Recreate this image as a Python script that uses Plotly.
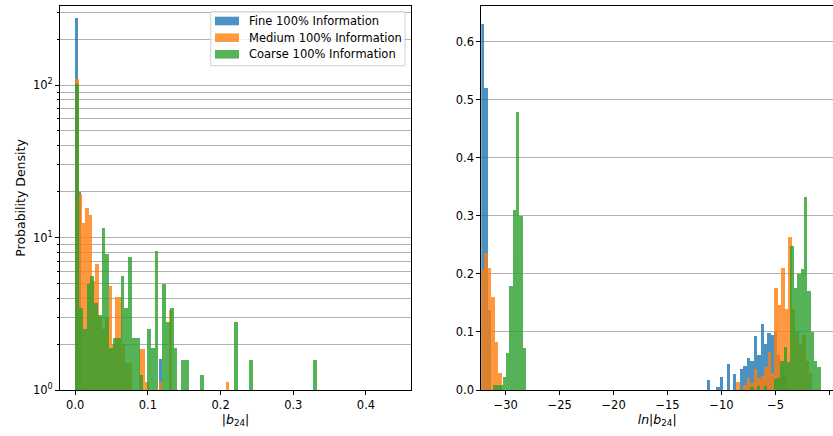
import plotly.graph_objects as go

# ---------------- data: left panel (|b24|), log-scale density ----------------
blue_left_x = [0.00205, 0.00615, 0.11685]
blue_left_y = [275, 20, 1.6]

orange_left_x = [0.0023, 0.0069, 0.0115, 0.0161, 0.0207, 0.0253, 0.0299, 0.0345,
                 0.0391, 0.0437, 0.0483, 0.0529, 0.0575, 0.0621, 0.0667, 0.0713,
                 0.0759, 0.0897, 0.0943, 0.0989, 0.1173, 0.1311, 0.2093]
orange_left_y = [109, 19.3, 12.4, 15.6, 14.0, 5.2, 6.7, 3.0,
                 2.5, 3.0, 4.8, 2.0, 4.1, 4.1, 2.0, 1.5,
                 1.5, 1.86, 1.86, 1.13, 1.13, 3.35, 1.13]

green_left_x = [0.0026, 0.0078, 0.0130, 0.0182, 0.0234, 0.0286, 0.0338, 0.0390,
                0.0442, 0.0494, 0.0546, 0.0598, 0.0650, 0.0702, 0.0754, 0.0806,
                0.0858, 0.0910, 0.1014, 0.1066, 0.1118, 0.1222, 0.1274, 0.1326,
                0.1378, 0.1482, 0.1534, 0.1742, 0.2210, 0.2418, 0.3302]
green_left_y = [101, 3.45, 2.5, 4.96, 5.6, 3.7, 3.1, 11.5,
                7.8, 1.9, 2.2, 2.2, 5.6, 3.45, 7.5, 2.2,
                2.2, 1.25, 2.5, 1.9, 8.1, 4.96, 2.8, 3.45,
                1.9, 1.57, 1.57, 1.25, 2.8, 1.57, 1.57]

# ---------------- data: right panel (ln|b24|), linear density ----------------
blue_right_x = [-32.11, -31.80, -31.48, -11.20, -10.30, -9.95, -9.35, -8.75,
                -8.10, -7.80, -7.45, -7.15, -6.80, -6.50, -6.18, -5.88,
                -5.57, -5.26, -4.96, -4.66, -4.36, -4.06]
blue_right_y = [0.631, 0.52, 0.138, 0.018, 0.005, 0.022, 0.045, 0.027,
                0.036, 0.041, 0.055, 0.05, 0.093, 0.06, 0.114, 0.08,
                0.099, 0.095, 0.10, 0.06, 0.04, 0.025]

orange_right_x = [-32.11, -31.79, -31.47, -31.15, -30.83, -30.51,
                  -8.43, -7.79, -7.47, -7.15, -6.83, -6.51, -6.19, -5.87,
                  -5.55, -5.23, -4.91, -4.59, -4.27, -3.95, -3.63, -3.31,
                  -2.99, -2.67, -2.35, -2.03, -1.71]
orange_right_y = [0.207, 0.236, 0.21, 0.16, 0.083, 0.03,
                  0.014, 0.009, 0.02, 0.012, 0.036, 0.02, 0.025, 0.04,
                  0.065, 0.03, 0.176, 0.146, 0.21, 0.14, 0.263, 0.14,
                  0.10, 0.08, 0.095, 0.05, 0.03]

green_right_x = [-31.02, -30.71, -30.40, -30.09, -29.78, -29.47, -29.16, -28.85,
                 -28.54, -28.23,
                 -7.15, -6.53, -5.91, -4.98, -4.67, -4.36, -4.05, -3.74,
                 -3.43, -3.12, -2.81, -2.50, -2.19, -1.88, -1.57, -1.26, -0.95]
green_right_y = [0.009, 0.009, 0.009, 0.023, 0.064, 0.18, 0.31, 0.48,
                 0.30, 0.072,
                 0.005, 0.007, 0.007, 0.019, 0.02, 0.05, 0.075, 0.048,
                 0.248, 0.176, 0.20, 0.208, 0.333, 0.17, 0.10, 0.05, 0.04]

series_names = ["Fine 100% Information", "Medium 100% Information", "Coarse 100% Information"]
colors = ["#1f77b4", "#ff7f0e", "#2ca02c"]

left_x = [blue_left_x, orange_left_x, green_left_x]
left_y = [blue_left_y, orange_left_y, green_left_y]
left_w = [0.0041, 0.0046, 0.0052]
right_x = [blue_right_x, orange_right_x, green_right_x]
right_y = [blue_right_y, orange_right_y, green_right_y]
right_w = [0.30, 0.32, 0.31]

fig = go.Figure()
for i in range(3):
    fig.add_trace(go.Bar(x=left_x[i], y=left_y[i], width=left_w[i], name=series_names[i],
                         marker=dict(color=colors[i], line=dict(width=0)), opacity=0.8,
                         showlegend=False, xaxis="x", yaxis="y"))
for i in range(3):
    fig.add_trace(go.Bar(x=right_x[i], y=right_y[i], width=right_w[i], name=series_names[i],
                         marker=dict(color=colors[i], line=dict(width=0)), opacity=0.8,
                         showlegend=False, xaxis="x2", yaxis="y2"))

FS = 11.5
font = dict(family="DejaVu Sans", size=FS, color="black")
title_font = dict(family="DejaVu Sans", size=12.5, color="black")
axis_common = dict(showline=True, linecolor="black", linewidth=1, mirror=True,
                   ticks="outside", ticklen=4, tickcolor="black", tickwidth=1,
                   zeroline=False, tickfont=font)

minor_vals = [2, 3, 4, 5, 6, 7, 8, 9, 20, 30, 40, 50, 60, 70, 80, 90, 200, 300]

# ---- manual legend (matplotlib style), in paper coordinates ----
L, T, W, H = 60, 6, 773, 384          # plot-area box in pixels
def px(xp):
    return (xp - L) / W
def py(yp):
    return (T + H - yp) / H

shapes = [dict(type="rect", xref="paper", yref="paper",
               x0=px(210.7), x1=px(405), y0=py(65.7), y1=py(11.7),
               line=dict(color="#d0d0d0", width=1), fillcolor="rgba(255,255,255,0.8)",
               layer="above")]
annotations = []
row_y = [21.0, 37.7, 54.3]
for i in range(3):
    shapes.append(dict(type="rect", xref="paper", yref="paper",
                       x0=px(215), x1=px(239), y0=py(row_y[i] + 4.3), y1=py(row_y[i] - 4.3),
                       line=dict(width=0), fillcolor=colors[i], opacity=0.8, layer="above"))
    annotations.append(dict(xref="paper", yref="paper", x=px(247), y=py(row_y[i]),
                            xanchor="left", yanchor="middle", showarrow=False,
                            text=series_names[i], font=font))

fig.update_layout(
    width=833, height=436,
    margin=dict(l=60, r=0, t=6, b=46),
    paper_bgcolor="white", plot_bgcolor="white",
    font=font, barmode="overlay", bargap=0,
    xaxis=dict(domain=[0, 0.4541], range=[-0.021, 0.462], showgrid=False,
               tickvals=[0, 0.1, 0.2, 0.3, 0.4], ticktext=["0.0", "0.1", "0.2", "0.3", "0.4"],
               title=dict(text="|<i>b</i><sub>24</sub>|", font=title_font, standoff=3),
               anchor="y", **axis_common),
    yaxis=dict(type="log", range=[0, 2.5185], anchor="x",
               tickvals=[1, 10, 100], ticktext=["10<sup>0</sup>", "10<sup>1</sup>", "10<sup>2</sup>"],
               showgrid=True, gridcolor="#b0b0b0", gridwidth=1,
               minor=dict(tickvals=minor_vals, ticks="outside", ticklen=2, tickcolor="black",
                          showgrid=True, gridcolor="#b0b0b0", gridwidth=1),
               title=dict(text="Probability Density", font=title_font, standoff=4),
               **axis_common),
    xaxis2=dict(domain=[0.545, 1.0], range=[-32.26, 0.33], showgrid=False,
                tickvals=[-30, -25, -20, -15, -10, -5, 0],
                title=dict(text="<i>ln</i>|<i>b</i><sub>24</sub>|", font=title_font, standoff=3),
                anchor="y2", **axis_common),
    yaxis2=dict(range=[0, 0.662], anchor="x2", tickvals=[0, 0.1, 0.2, 0.3, 0.4, 0.5, 0.6],
                ticktext=["0.0", "0.1", "0.2", "0.3", "0.4", "0.5", "0.6"],
                showgrid=True, gridcolor="#b0b0b0", gridwidth=1, **axis_common),
    shapes=shapes,
    annotations=annotations,
    showlegend=False,
)

fig.write_html("out.html")
